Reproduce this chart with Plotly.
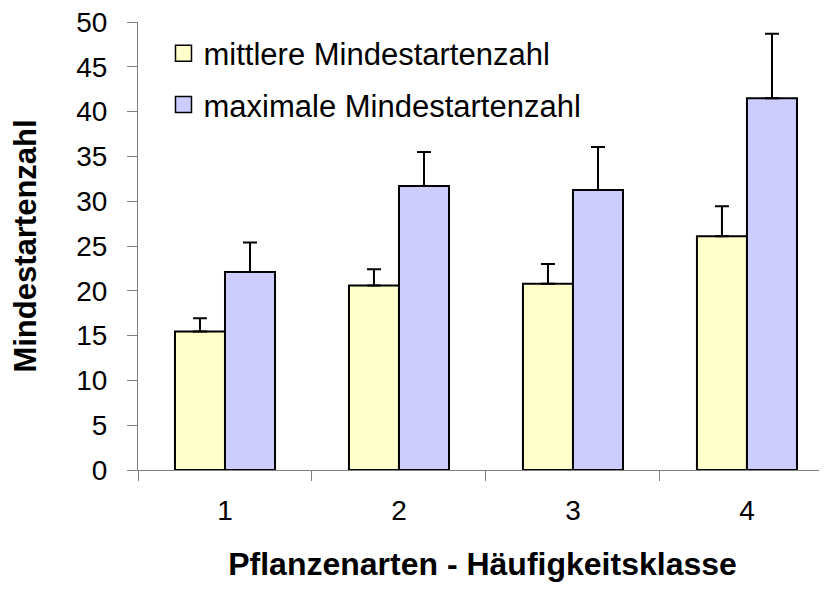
import plotly.graph_objects as go

categories = ["1", "2", "3", "4"]
mean_values = [15.45, 20.6, 20.8, 26.1]
mean_err = [1.5, 1.8, 2.2, 3.35]
max_values = [22.1, 31.7, 31.25, 41.5]
max_err = [3.3, 3.8, 4.8, 7.2]
series_names = ["mittlere Mindestartenzahl", "maximale Mindestartenzahl"]
y_ticks = list(range(0, 51, 5))

FONT = "Arial, Liberation Sans, sans-serif"
colors = ["#FFFFCC", "#CCCCFF"]

fig = go.Figure()
for vals, errs, col in [(mean_values, mean_err, colors[0]), (max_values, max_err, colors[1])]:
    fig.add_trace(go.Bar(
        x=categories, y=vals, showlegend=False,
        marker=dict(color=col, line=dict(color="black", width=2)),
        error_y=dict(type="data", symmetric=False, array=errs,
                     arrayminus=[0] * len(errs), color="black",
                     thickness=2, width=7),
    ))

for name, col, grp in zip(series_names, colors, ["a", "b"]):
    fig.add_trace(go.Scatter(
        x=[None], y=[None], mode="markers", name=name, legendgroup=grp,
        marker=dict(symbol="square", size=16, color=col,
                    line=dict(color="black", width=1.5)),
    ))

fig.update_layout(
    width=827, height=590,
    margin=dict(l=130, r=8, t=14, b=128),
    paper_bgcolor="white", plot_bgcolor="white",
    barmode="group", bargap=0.425, bargroupgap=0,
    font=dict(family=FONT, color="black"),
    legend=dict(x=0.037, y=0.99, xanchor="left", yanchor="top",
                font=dict(size=31, family=FONT), bgcolor="rgba(0,0,0,0)",
                tracegroupgap=8, itemwidth=30),
    xaxis=dict(type="category", range=[-0.5, 3.46], showline=True,
               linecolor="#808080", linewidth=1, ticks="outside", ticklen=10,
               tickcolor="#808080", tickson="boundaries", showgrid=False,
               tickfont=dict(size=28), ticklabelstandoff=15, automargin=False,
               ticklabeloverflow="allow",
               title=dict(text="<b>Pflanzenarten - Häufigkeitsklasse</b>",
                          font=dict(size=32), standoff=28)),
    yaxis=dict(range=[0, 50], tickvals=y_ticks, showline=True,
               linecolor="#808080", linewidth=1, ticks="outside", ticklen=10,
               tickcolor="#808080", showgrid=False, zeroline=False,
               tickfont=dict(size=28), ticklabelstandoff=14, automargin=False,
               ticklabeloverflow="allow",
               title=dict(text="<b>Mindestartenzahl</b>",
                          font=dict(size=31), standoff=35)),
)

fig.write_html("out.html")
